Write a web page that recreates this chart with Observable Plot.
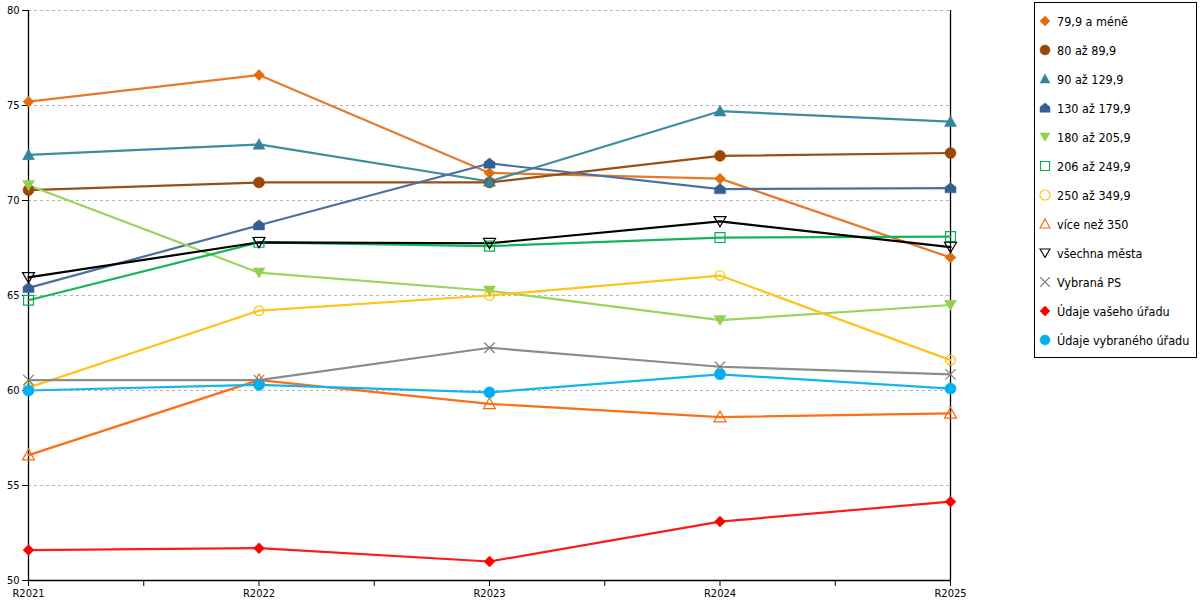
<!DOCTYPE html>
<html><head><meta charset="utf-8">
<script src="https://cdn.jsdelivr.net/npm/d3@7"></script>
<script src="https://cdn.jsdelivr.net/npm/@observablehq/plot@0.6"></script>
<style>
body{margin:0;background:#fff;}
#wrap{position:relative;width:1200px;height:600px;font-family:"DejaVu Sans Condensed","DejaVu Sans",sans-serif;}
#legend{position:absolute;left:1034px;top:2px;width:163px;height:356px;border:1px solid #000;box-sizing:border-box;background:#fff;}
.item{position:absolute;left:0;height:20px;display:flex;align-items:center;font-size:12.5px;color:#000;white-space:nowrap;}
.item svg{margin-left:3px;margin-right:5px;}
</style>
</head><body>
<div id="wrap"></div>
<script>
const categories = ["R2021","R2022","R2023","R2024","R2025"];
const seriesNames = ["79,9 a méně","80 až 89,9","90 až 129,9","130 až 179,9","180 až 205,9","206 až 249,9","250 až 349,9","více než 350","všechna města","Vybraná PS","Údaje vašeho úřadu","Údaje vybraného úřadu"];
const s799   = [75.2, 76.6, 71.45, 71.15, 67.0];
const s80    = [70.55, 70.95, 70.95, 72.35, 72.5];
const s90    = [72.4, 72.95, 71.0, 74.7, 74.15];
const s130   = [65.4, 68.7, 71.95, 70.6, 70.65];
const s180   = [70.8, 66.2, 65.25, 63.7, 64.5];
const s206   = [64.75, 67.8, 67.6, 68.05, 68.1];
const s250   = [60.15, 64.2, 65.0, 66.05, 61.6];
const s350   = [56.6, 60.55, 59.3, 58.6, 58.8];
const sAll   = [65.95, 67.8, 67.75, 68.9, 67.55];
const sPS    = [60.55, 60.55, 62.25, 61.25, 60.85];
const sVas   = [51.6, 51.7, 51.0, 53.1, 54.15];
const sVybr  = [60.0, 60.3, 59.9, 60.85, 60.1];
const seriesValues = [s799, s80, s90, s130, s180, s206, s250, s350, sAll, sPS, sVas, sVybr];
const yTicks = [50, 55, 60, 65, 70, 75, 80];

// styles
const colors = ["#E46C0A","#984807","#31859C","#366092","#92D050","#00B050","#FFC000","#FF6600","#000000","#808080","#FF0000","#00B0F0"];
const lineColors = ["#E8792A","#9A4E12","#3D8CA2","#4A70A0","#9AD45C","#14B45C","#FFC31A","#FF6E14","#000000","#8C8C8C","#FF1A1A","#14B4F0"];

function mk(fn){ return {draw(ctx, size){ const r = Math.sqrt(size/Math.PI); fn(ctx, r); }}; }
const symDiamond = mk((c,r)=>{c.moveTo(0,-r);c.lineTo(r,0);c.lineTo(0,r);c.lineTo(-r,0);c.closePath();});
const symCircle = mk((c,r)=>{c.moveTo(r,0);c.arc(0,0,r,0,2*Math.PI);c.closePath();});
const symTriUp = mk((c,r)=>{c.moveTo(0,-r);c.lineTo(r,r*0.8);c.lineTo(-r,r*0.8);c.closePath();});
const symTriDown = mk((c,r)=>{c.moveTo(0,r*0.9);c.lineTo(r,-r*0.8);c.lineTo(-r,-r*0.8);c.closePath();});
const symHouse = mk((c,r)=>{c.moveTo(0,-r);c.lineTo(r,-r*0.2);c.lineTo(r,r*0.85);c.lineTo(-r,r*0.85);c.lineTo(-r,-r*0.2);c.closePath();});
const symSquare = mk((c,r)=>{const s=r*0.9;c.moveTo(-s,-s);c.lineTo(s,-s);c.lineTo(s,s);c.lineTo(-s,s);c.closePath();});
const symTimes = mk((c,r)=>{const s=r*0.95;c.moveTo(-s,-s);c.lineTo(s,s);c.moveTo(s,-s);c.lineTo(-s,s);});

const symbols = [symDiamond, symCircle, symTriUp, symHouse, symTriDown, symSquare, symCircle, symTriUp, symTriDown, symTimes, symDiamond, symCircle];
const filled  = [true, true, true, true, true, false, false, false, false, false, true, true];
const radii   = [5.5, 5.5, 6, 5.5, 6, 5.5, 4.8, 6, 6, 5.5, 5.5, 5.6];

const rows = [];
seriesNames.forEach((name, si) => seriesValues[si].forEach((v, i) => rows.push({series: name, si, i, value: v})));

const marks = [
  Plot.gridY({ticks: yTicks.filter(t => t > 50), stroke: "#b4b4b4", strokeOpacity: 1, strokeDasharray: "3,3"}),
  Plot.axisY({ticks: yTicks, tickSize: 6, tickPadding: 3, tickFormat: d => String(d), fontSize: 11, label: null}),
  Plot.axisX({ticks: d3.range(0, 4.001, 0.5), tickSize: 6, tickPadding: 3, tickFormat: d => Number.isInteger(d) ? categories[d] : "", fontSize: 11, label: null}),
  Plot.ruleX([0, categories.length - 1], {stroke: "#000", strokeWidth: 1.3}),
  Plot.ruleY([yTicks[0]], {stroke: "#000", strokeWidth: 1.3})
];
seriesNames.forEach((name, si) => {
  const data = rows.filter(d => d.si === si);
  marks.push(Plot.line(data, {x: "i", y: "value", stroke: lineColors[si], strokeWidth: 2.2}));
});
seriesNames.forEach((name, si) => {
  const data = rows.filter(d => d.si === si);
  marks.push(Plot.dot(data, {
    x: "i", y: "value", symbol: () => symbols[si], r: radii[si],
    fill: filled[si] ? colors[si] : "none",
    stroke: colors[si], strokeWidth: filled[si] ? 0.5 : 1.2
  }));
});

const chart = Plot.plot({
  width: 1200, height: 600,
  marginLeft: 28, marginRight: 250, marginTop: 10, marginBottom: 20,
  style: {fontFamily: '"DejaVu Sans Condensed","DejaVu Sans",sans-serif', fontSize: "11px", color: "#000", background: "#fff"},
  x: {type: "linear", domain: [0, categories.length - 1], label: null},
  y: {domain: [50, 80], label: null},
  symbol: {type: "identity"},
  marks
});
const wrap = document.getElementById("wrap");
wrap.appendChild(chart);

// legend
const legend = document.createElement("div");
legend.id = "legend";
seriesNames.forEach((name, si) => {
  const it = document.createElement("div");
  it.className = "item";
  it.style.top = (8 + 29 * si) + "px";
  const p = d3.path();
  const r = 5;
  symbols[si].draw(p, Math.PI * r * r);
  const svg = `<svg width="14" height="14" viewBox="-7 -7 14 14"><path d="${p.toString()}" fill="${filled[si] ? colors[si] : "none"}" stroke="${colors[si]}" stroke-width="${filled[si] ? 0.5 : 1.1}"/></svg>`;
  it.innerHTML = svg + `<span>${name}</span>`;
  legend.appendChild(it);
});
wrap.appendChild(legend);
</script>
</body></html>
